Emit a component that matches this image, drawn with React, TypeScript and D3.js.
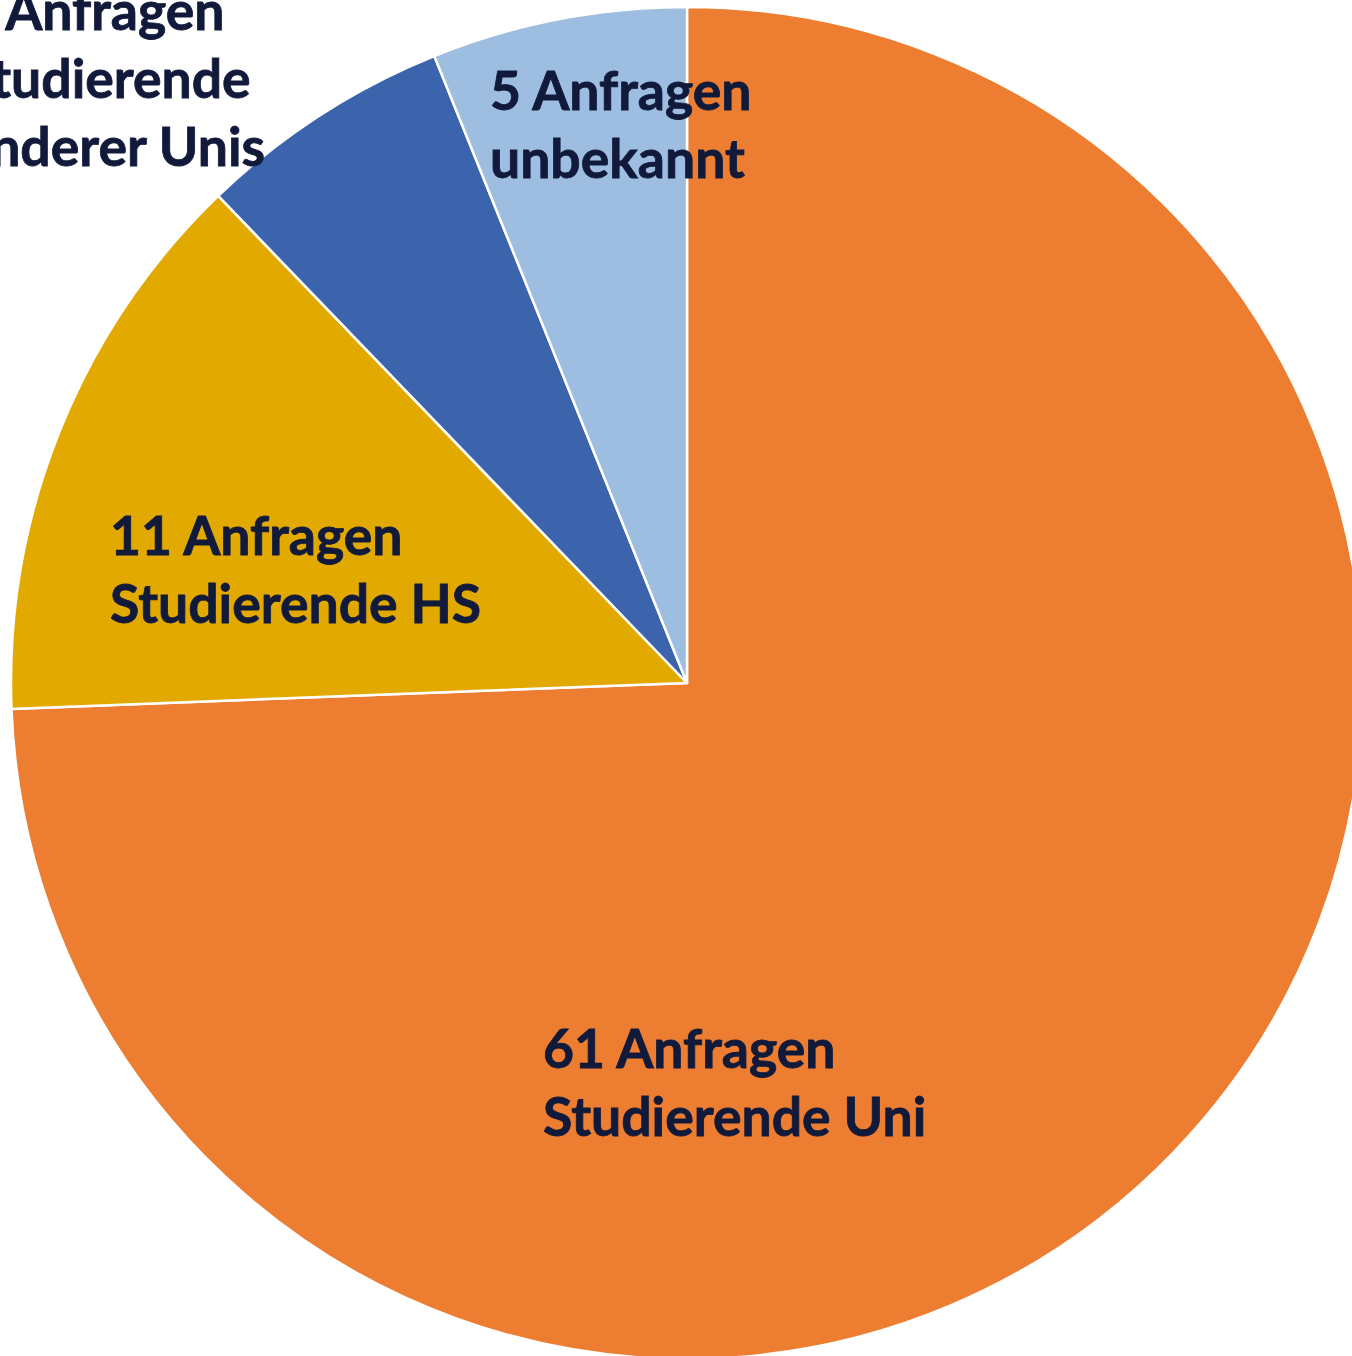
import { useEffect, useRef } from 'react';
import * as d3 from 'd3';

// slices, clockwise from 12 o'clock
const categories = ['Studierende Uni', 'Studierende HS', 'Studierende anderer Unis', 'unbekannt'];
const counts = [61, 11, 5, 5];
const labelLines = [
  ['61 Anfragen', 'Studierende Uni'],
  ['11 Anfragen', 'Studierende HS'],
  ['5 Anfragen', 'Studierende', 'anderer Unis'],
  ['5 Anfragen', 'unbekannt'],
];
const colors = ['#ED7D31', '#E2AA00', '#3B64AD', '#9DBDE1'];

const W = 1352;
const H = 1356;

export default function App() {
  const svgRef = useRef<SVGSVGElement>(null);

  useEffect(() => {
    if (!svgRef.current) return;
    const svg = d3.select(svgRef.current);
    svg.selectAll('*').remove();

    const cx = 687;
    const cy = 683;
    const radius = 676;

    const data = categories.map((c, i) => ({ name: c, value: counts[i], lines: labelLines[i], color: colors[i] }));

    const pie = d3.pie<any>().sort(null).value((d) => d.value);
    const arc = d3.arc<any>().innerRadius(0).outerRadius(radius);

    const g = svg.append('g').attr('transform', `translate(${cx},${cy})`);

    const arcs = pie(data);

    g.selectAll('path')
      .data(arcs)
      .join('path')
      .attr('d', arc)
      .attr('fill', (d) => d.data.color)
      .attr('stroke', '#ffffff')
      .attr('stroke-width', 2.5)
      .attr('stroke-linejoin', 'round');

    // label anchor (left edge, first baseline) relative to centre
    const labelOffsets = [
      [-144, 385],
      [-577, -128],
      [null, -653],
      [-197, -573],
    ];

    const labels = g.selectAll('text.lbl')
      .data(arcs)
      .join('text')
      .attr('class', 'lbl')
      .attr('font-family', 'Lato, "Open Sans", sans-serif')
      .attr('font-weight', 700)
      .attr('font-size', 53.5)
      .attr('fill', '#111a3a')
      .attr('stroke', '#111a3a')
      .attr('stroke-width', 0.8);

    labels.each(function (d, i) {
      const t = d3.select(this);
      d.data.lines.forEach((line: string, j: number) => {
        t.append('tspan').attr('dy', j === 0 ? 0 : 68).text(line);
      });
      let x = labelOffsets[i][0] as number | null;
      if (x === null) {
        // right edge of last line sits at x=265 in the page
        const last = (t.selectAll('tspan').nodes()[d.data.lines.length - 1]) as SVGTSpanElement;
        const w = last.getComputedTextLength();
        x = 265 - cx - w;
      }
      t.attr('x', x).attr('y', labelOffsets[i][1]);
      t.selectAll('tspan').attr('x', x);
    });
  }, []);

  return (
    <svg
      ref={svgRef}
      width={W}
      height={H}
      style={{ position: 'absolute', left: 0, top: 0, background: '#ffffff' }}
    />
  );
}
